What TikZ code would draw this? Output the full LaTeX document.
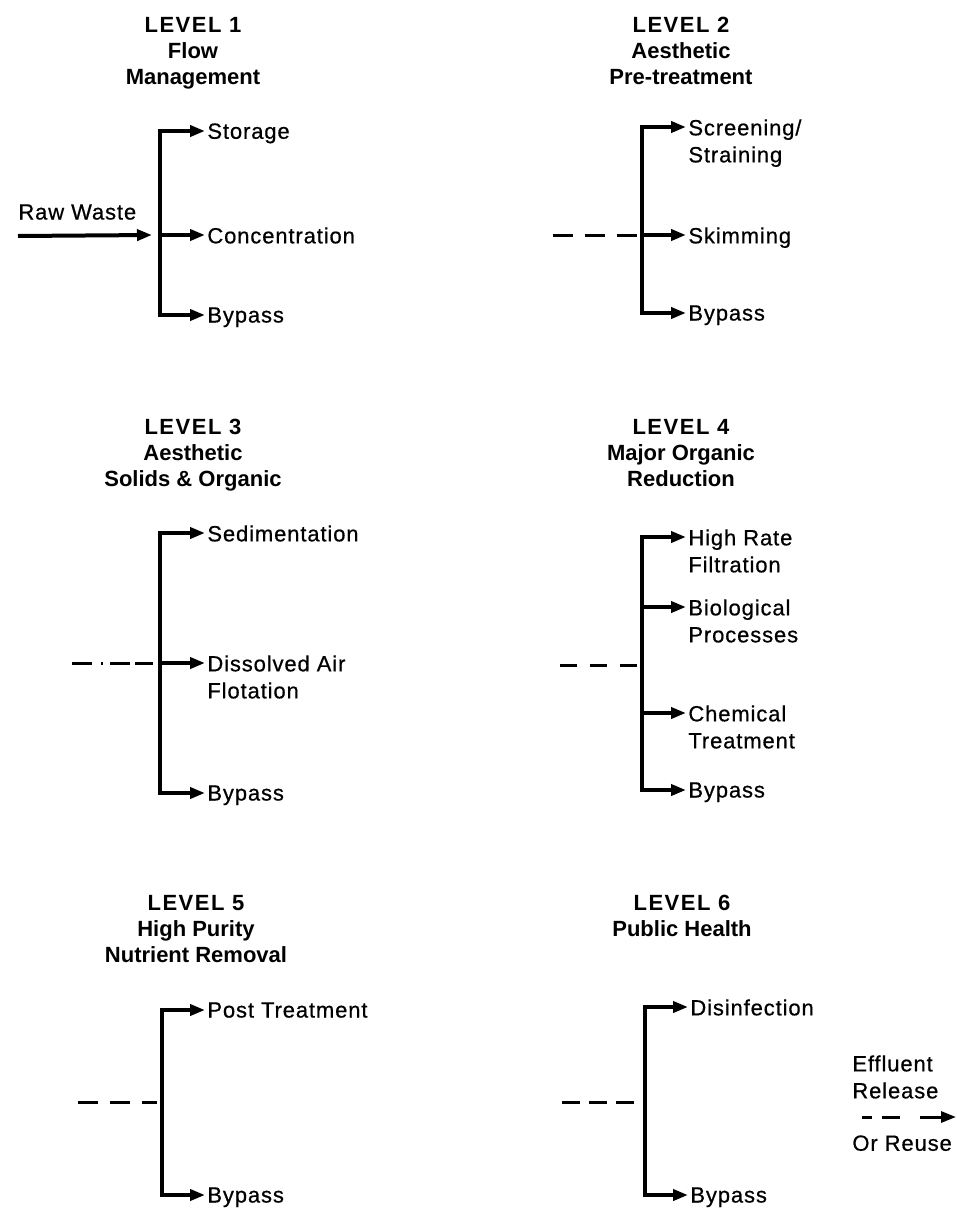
\documentclass[tikz,border=0pt]{standalone}
\usepackage{fontspec}
\setmainfont{Liberation Sans}[LetterSpace=4,FakeBold=0.6]
\newfontfamily\ttlfont{Liberation Sans}
\newfontfamily\levelfont{Liberation Sans}[LetterSpace=7]
\usetikzlibrary{arrows.meta}

\tikzset{
  ttl/.style={align=center,inner sep=0pt,anchor=north,
    font=\ttlfont\bfseries\fontsize{11}{13}\selectfont},
  lbl/.style={align=left,inner sep=0pt,anchor=north west,
    font=\fontsize{11}{13.5}\selectfont},
  bar/.style={line width=2pt,<->},
  feed/.style={line width=2pt,->},
  dashin/.style={line width=1.5pt,dash pattern=on 10pt off 6pt}
}

\begin{document}
\begin{tikzpicture}
  [x=0.5pt,y=-0.5pt,>={Triangle[length=7.5pt,width=5.5pt]}]
  \useasboundingbox (0,0) rectangle (957,1210);

  % titles
  \node[ttl] (t1) at (193,17) {{\levelfont LEVEL 1}\\Flow\\Management};
  \node[ttl] (t2) at (681,17) {{\levelfont LEVEL 2}\\Aesthetic\\Pre-treatment};
  \node[ttl] (t3) at (193,419) {{\levelfont LEVEL 3}\\Aesthetic\\Solids \& Organic};
  \node[ttl] (t4) at (681,419) {{\levelfont LEVEL 4}\\Major Organic\\Reduction};
  \node[ttl] (t5) at (196,895) {{\levelfont LEVEL 5}\\High Purity\\Nutrient Removal};
  \node[ttl] (t6) at (682,895) {{\levelfont LEVEL 6}\\Public Health};

  % level 1
  \node[lbl] (raw) at (18,204) {Raw Waste};
  \node[lbl] (sto) at (207,123) {Storage};
  \node[lbl] (con) at (207,227) {Concentration};
  \node[lbl] (byp1) at (207,307) {Bypass};
  \coordinate (b1t) at (160,131);
  \coordinate (b1m) at (160,235);
  \coordinate (b1b) at (160,315);
  \coordinate (w1) at (18,236);

  % level 2
  \node[lbl] (scr) at (688,119) {Screening/\\Straining};
  \node[lbl] (skm) at (688,227) {Skimming};
  \node[lbl] (byp2) at (688,305) {Bypass};
  \coordinate (b2t) at (642,127);
  \coordinate (b2m) at (642,235);
  \coordinate (b2b) at (642,313);
  \coordinate (w2) at (553,235);

  % level 3
  \node[lbl] (sed) at (207,525) {Sedimentation};
  \node[lbl] (daf) at (207,655) {Dissolved Air\\Flotation};
  \node[lbl] (byp3) at (207,785) {Bypass};
  \coordinate (b3t) at (160,533);
  \coordinate (b3m) at (160,663);
  \coordinate (b3b) at (160,793);
  \coordinate (w3) at (72,663);

  % level 4
  \node[lbl] (hrf) at (688,529) {High Rate\\Filtration};
  \node[lbl] (bio) at (688,599) {Biological\\Processes};
  \node[lbl] (chm) at (688,705) {Chemical\\Treatment};
  \node[lbl] (byp4) at (688,782) {Bypass};
  \coordinate (b4t) at (642,537);
  \coordinate (b4a) at (642,607);
  \coordinate (b4m) at (642,665);
  \coordinate (b4b) at (642,713);
  \coordinate (b4e) at (642,790);
  \coordinate (w4) at (560,665);

  % level 5
  \node[lbl] (pst) at (207,1002) {Post Treatment};
  \node[lbl] (byp5) at (207,1187) {Bypass};
  \coordinate (b5t) at (162,1010);
  \coordinate (b5m) at (162,1102);
  \coordinate (b5b) at (162,1195);
  \coordinate (w5) at (78,1102);

  % level 6
  \node[lbl] (dis) at (690,999) {Disinfection};
  \node[lbl] (byp6) at (690,1187) {Bypass};
  \coordinate (b6t) at (645,1007);
  \coordinate (b6m) at (645,1102);
  \coordinate (b6b) at (645,1195);
  \coordinate (w6) at (562,1102);

  % outlet
  \node[lbl] (eff) at (852,1055) {Effluent\\Release};
  \node[lbl] (reu) at (852,1135) {Or Reuse};
  \coordinate (o1) at (862,1117);
  \coordinate (o2) at (956,1117);

  % bars with top and bottom branches
  \foreach \up/\cu/\cd/\dn in {sto/b1t/b1b/byp1,scr/b2t/b2b/byp2,sed/b3t/b3b/byp3,
    hrf/b4t/b4e/byp4,pst/b5t/b5b/byp5,dis/b6t/b6b/byp6}
    \draw[bar] ([xshift=-1pt]\up.west |- \cu) -- (\cu) -- (\cd) -- ([xshift=-1pt]\dn.west |- \cd);

  % middle branches
  \foreach \c/\n in {b1m/con,b2m/skm,b3m/daf,b4a/bio,b4b/chm}
    \draw[feed] (\c) -- ([xshift=-1pt]\n.west |- \c);

  % inputs
  \draw[feed] (w1) -- ([xshift=-4pt]b1m);
  \draw[dashin] (w2) -- ([xshift=-2.5pt]b2m);
  \draw[dashin,dash pattern=on 10pt off 4.5pt on 1pt off 3.5pt on 10pt off 2.5pt on 9pt]
    (w3) -- ([xshift=-3.5pt]b3m);
  \draw[dashin,dash pattern=on 8.5pt off 6.5pt] (w4) -- ([xshift=-2.5pt]b4m);
  \draw[dashin] (w5) -- ([xshift=-2.5pt]b5m);
  \draw[dashin,dash pattern=on 9pt off 4.5pt] (w6) -- ([xshift=-4pt]b6m);
  \draw[dashin,->,dash pattern=on 5pt off 5pt on 9pt off 10pt on 20pt] (o1) -- (o2);
\end{tikzpicture}
\end{document}
